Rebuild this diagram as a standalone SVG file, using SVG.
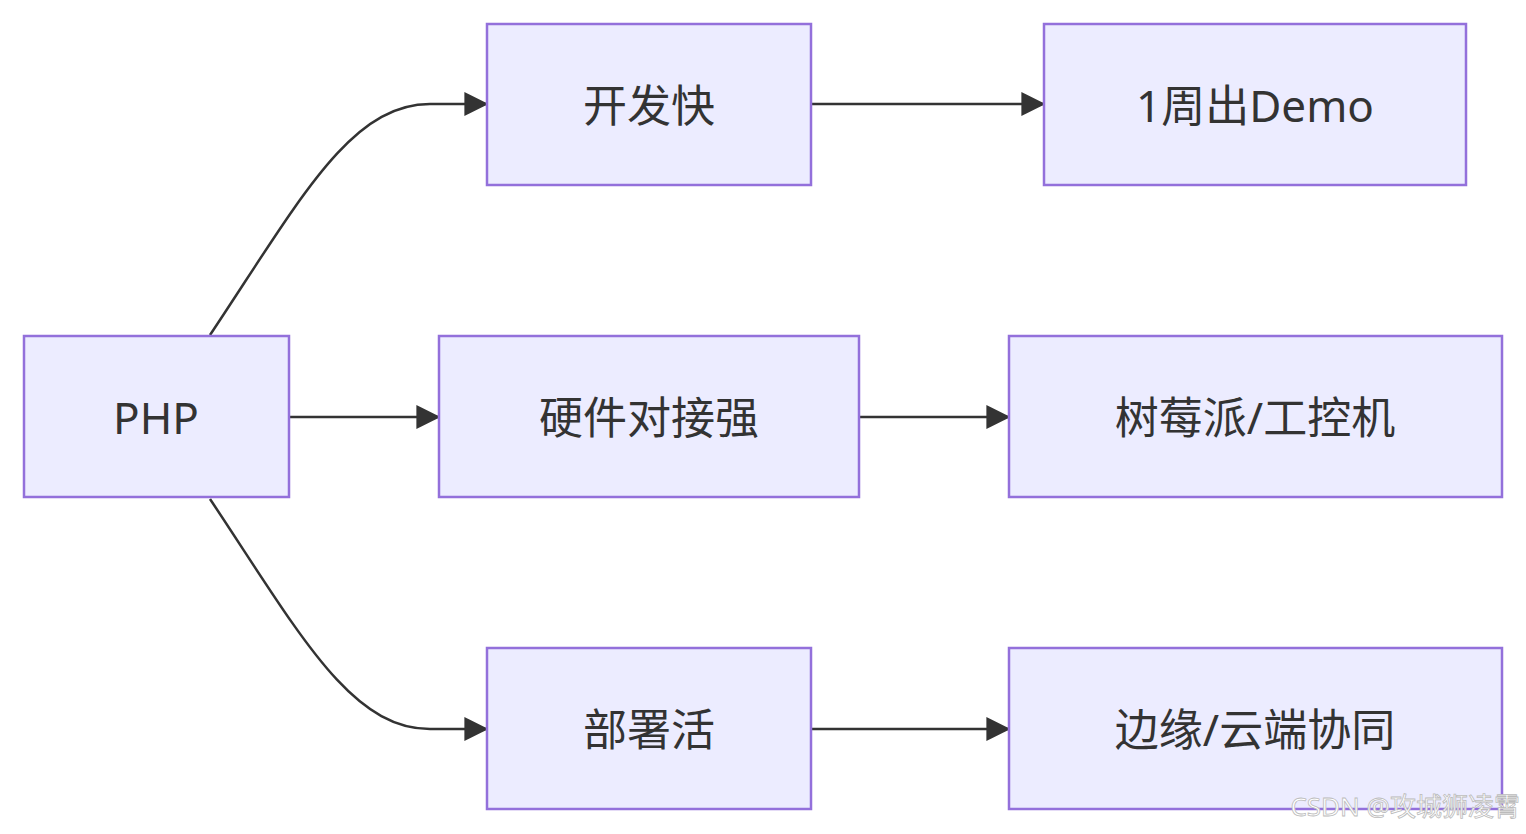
<svg xmlns="http://www.w3.org/2000/svg" width="1526" height="834" viewBox="0 0 1526 834">
<defs>
<style>
.n{fill:#ECECFF;stroke:#9370DB;stroke-width:2.5}
.t{font-family:"Noto Sans","Noto Sans CJK SC",sans-serif;font-size:44px;fill:#333;text-anchor:middle;dominant-baseline:central}
.e{fill:none;stroke:#333;stroke-width:2.5}
</style>
<marker id="a" viewBox="0 0 10 10" refX="9" refY="5" markerWidth="8" markerHeight="8" markerUnits="userSpaceOnUse" orient="auto"><path d="M0,0L10,5L0,10z" fill="#333"/></marker>
<marker id="b" viewBox="0 0 10 10" refX="9" refY="5" markerWidth="24" markerHeight="24" markerUnits="userSpaceOnUse" orient="auto"><path d="M0,0L10,5L0,10z" fill="#333"/></marker>
</defs>
<rect width="1526" height="834" fill="#fff"/>
<g id="edges">
<path class="e" marker-end="url(#b)" d="M210,335 C300,200 350,104 430,104 L486,104"/>
<path class="e" marker-end="url(#b)" d="M290,417 L438,417"/>
<path class="e" marker-end="url(#b)" d="M210,499 C300,634 350,729 430,729 L486,729"/>
<path class="e" marker-end="url(#b)" d="M812,104 L1043,104"/>
<path class="e" marker-end="url(#b)" d="M860,417 L1008,417"/>
<path class="e" marker-end="url(#b)" d="M812,729 L1008,729"/>
</g>
<g id="php"><rect class="n" x="24" y="336" width="265" height="161"/><text class="t" x="156" y="417">PHP</text></g>
<g id="kfk"><rect class="n" x="487" y="24" width="324" height="161"/><text class="t" x="649" y="105">开发快</text></g>
<g id="demo"><rect class="n" x="1044" y="24" width="422" height="161"/><text class="t" x="1255" y="105">1周出Demo</text></g>
<g id="yj"><rect class="n" x="439" y="336" width="420" height="161"/><text class="t" x="649" y="417">硬件对接强</text></g>
<g id="smp"><rect class="n" x="1009" y="336" width="493" height="161"/><text class="t" x="1255" y="417">树莓派/工控机</text></g>
<g id="bsh"><rect class="n" x="487" y="648" width="324" height="161"/><text class="t" x="649" y="729">部署活</text></g>
<g id="by"><rect class="n" x="1009" y="648" width="493" height="161"/><text class="t" x="1255" y="729">边缘/云端协同</text></g>
<text x="1520" y="806" font-family="Noto Sans,Noto Sans CJK SC,sans-serif" font-size="26" fill="#fff" stroke="#bbb" stroke-width="0.8" text-anchor="end" dominant-baseline="central">CSDN @攻城狮凌霄</text>
</svg>
